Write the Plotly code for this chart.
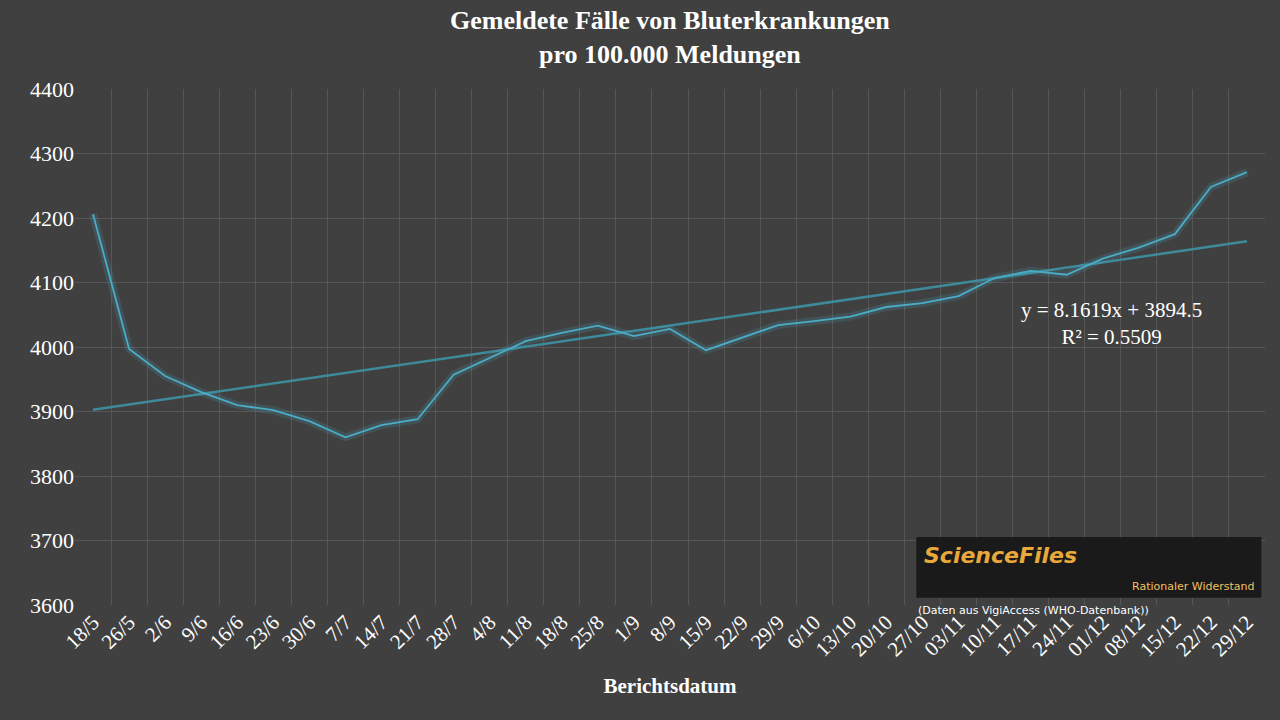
import plotly.graph_objects as go

dates = ["18/5", "26/5", "2/6", "9/6", "16/6", "23/6", "30/6", "7/7", "14/7", "21/7",
         "28/7", "4/8", "11/8", "18/8", "25/8", "1/9", "8/9", "15/9", "22/9", "29/9",
         "6/10", "13/10", "20/10", "27/10", "03/11", "10/11", "17/11", "24/11", "01/12",
         "08/12", "15/12", "22/12", "29/12"]
cases = [4206, 3997, 3955, 3930, 3910, 3902, 3885, 3860, 3879, 3888,
         3957, 3983, 4009, 4022, 4033, 4017, 4028, 3995, 4014, 4034,
         4040, 4047, 4062, 4068, 4079, 4107, 4118, 4112, 4137,
         4154, 4175, 4248, 4271]
slope, intercept = 8.1619, 3894.5

x = list(range(1, len(dates) + 1))
trend = [slope * i + intercept for i in x]

serif = "Liberation Serif, DejaVu Serif, serif"
fig = go.Figure()
fig.add_trace(go.Scatter(x=x, y=trend, mode="lines",
                         line=dict(color="#3d8a9a", width=2.5), hoverinfo="skip"))
fig.add_trace(go.Scatter(x=x, y=cases, mode="lines",
                         line=dict(color="rgba(75,172,198,0.18)", width=8), hoverinfo="skip"))
fig.add_trace(go.Scatter(x=x, y=cases, mode="lines",
                         line=dict(color="#4bacc6", width=1.8)))

fig.update_layout(
    width=1280, height=720, showlegend=False,
    paper_bgcolor="#404040", plot_bgcolor="#404040",
    margin=dict(l=75, r=15, t=89, b=115),
    font=dict(family=serif, color="white"),
)
fig.add_annotation(xref="paper", yref="paper", x=0.5, y=1.165, yanchor="top",
                   text="<b>Gemeldete Fälle von Bluterkrankungen<br>pro 100.000 Meldungen</b>",
                   showarrow=False, font=dict(family=serif, size=26, color="white"))
fig.update_xaxes(range=[0.5, len(dates) + 0.5], tickvals=x, ticktext=dates,
                 tickangle=-45, tickfont=dict(size=21, color="white"),
                 showgrid=False, zeroline=False, showline=False,
                 minor=dict(tickvals=[i + 0.5 for i in range(len(dates) + 1)],
                            showgrid=True, gridcolor="#565656", gridwidth=1),
                 title=dict(text="<b>Berichtsdatum</b>", standoff=18,
                            font=dict(size=21, color="white")))
fig.update_yaxes(range=[3600, 4400], dtick=100, tickfont=dict(size=22, color="white"),
                 gridcolor="#565656", zeroline=False, showline=False)

fig.add_annotation(x=31.8, y=4037, xref="x", yref="y",
                   text="y = 8.1619x + 3894.5<br>R² = 0.5509", showarrow=False,
                   font=dict(family=serif, size=21, color="white"), xanchor="right")

# logo placeholder
fig.add_shape(type="rect", xref="paper", yref="paper", x0=0.707, x1=0.997, y0=0.014, y1=0.132,
              fillcolor="#1a1a1a", line=dict(width=0))
fig.add_annotation(xref="paper", yref="paper", x=0.712, y=0.125, yanchor="top",
                   text="<b><i>ScienceFiles</i></b>",
                   showarrow=False, xanchor="left", font=dict(family="DejaVu Sans", size=22, color="#e8a93a"))
fig.add_annotation(xref="paper", yref="paper", x=0.993, y=0.02, yanchor="bottom",
                   text="Rationaler Widerstand",
                   showarrow=False, xanchor="right", font=dict(family="DejaVu Sans", size=11, color="#f0c060"))
fig.add_annotation(xref="paper", yref="paper", x=0.707, y=0.005, text="(Daten aus VigiAccess (WHO-Datenbank))",
                   showarrow=False, xanchor="left", yanchor="top",
                   font=dict(family="DejaVu Sans", size=11, color="white"))

fig.write_html("out.html", config={"displayModeBar": False},
               post_script="document.body.style.margin='0';")
